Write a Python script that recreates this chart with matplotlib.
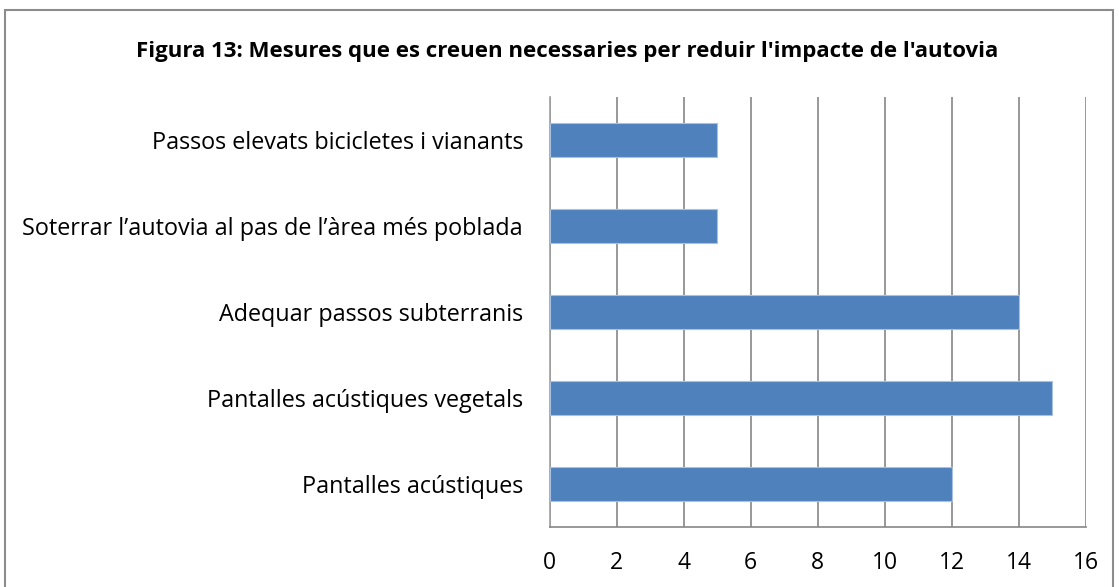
import matplotlib.pyplot as plt
from matplotlib.patches import Rectangle

categories = ["Pantalles acústiques",
              "Pantalles acústiques vegetals",
              "Adequar passos subterranis",
              "Soterrar l\u2019autovia al pas de l\u2019àrea més poblada",
              "Passos elevats bicicletes i vianants"]
values = [12, 15, 14, 5, 5]
xticks = [0, 2, 4, 6, 8, 10, 12, 14, 16]

plt.rcParams['font.family'] = ['Open Sans', 'DejaVu Sans']

W, H = 1119, 587
fig = plt.figure(figsize=(W / 100, H / 100), dpi=100)

# outer frame of the chart
fig.patches.append(Rectangle((5 / W, -0.05), (1113 - 5) / W, 1.05 - 10 / H,
                             transform=fig.transFigure, fill=False,
                             edgecolor='#8c8c8c', linewidth=1.5))

ax = fig.add_axes([549.5 / W, (H - 527) / H, (1086 - 549.5) / W, (527 - 97) / H])

ypos = range(len(categories))
ax.barh(ypos, values, height=0.4, color='#4f81bd', edgecolor='#a9c0de',
        linewidth=0.8, zorder=3)

ax.set_xlim(0, 16)
ax.set_ylim(-0.5, len(categories) - 0.5)
ax.set_xticks(xticks)
ax.set_xticklabels([str(t) for t in xticks], fontsize=16.5)
ax.set_yticks(list(ypos))
ax.set_yticklabels(categories, fontsize=16.8)
ax.tick_params(axis='both', length=0)
ax.tick_params(axis='x', pad=17)
ax.tick_params(axis='y', pad=19)
ax.xaxis.grid(True, color='#868686', linewidth=1.2, zorder=0)

for side in ['top', 'right']:
    ax.spines[side].set_visible(False)
ax.spines['left'].set_color('#a0a0a0')
ax.spines['bottom'].set_color('#868686')
ax.spines['left'].set_linewidth(1.2)
ax.spines['bottom'].set_linewidth(1.2)

fig.text(567 / W, 1 - 52 / H,
         "Figura 13: Mesures que es creuen necessaries per reduir l'impacte de l'autovia",
         ha='center', va='center', fontsize=16, fontweight='bold')

fig.savefig('out.png', dpi=100)
